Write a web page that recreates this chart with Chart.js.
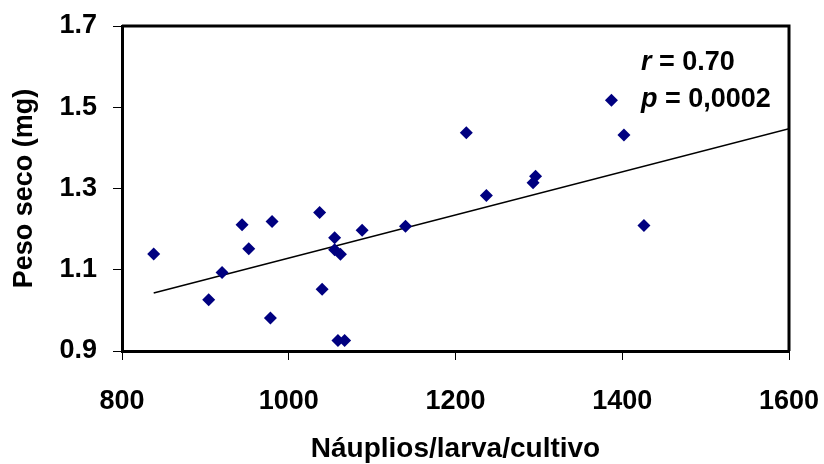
<!DOCTYPE html>
<html>
<head>
<meta charset="utf-8">
<script src="https://cdn.jsdelivr.net/npm/chart.js@4/dist/chart.umd.min.js"></script>
<style>
  html, body { margin: 0; padding: 0; background: #fff; }
  #wrap { width: 824px; height: 464px; position: relative; }
</style>
</head>
<body>
<div id="wrap"><canvas id="c" width="824" height="464"></canvas></div>
<script>
// Data
const nauplios = [838, 904, 920, 944, 952, 978, 980, 1037, 1040, 1055, 1055, 1062, 1059, 1067, 1088, 1140, 1213, 1237, 1293, 1296, 1387, 1402, 1426];
const pesoSeco = [1.139, 1.026, 1.093, 1.211, 1.152, 0.981, 1.219, 1.241, 1.052, 1.179, 1.149, 1.138, 0.926, 0.926, 1.197, 1.207, 1.437, 1.283, 1.314, 1.330, 1.517, 1.432, 1.209];
const trendX = [838, 1600];
const trendY = [1.043, 1.447];
const xTicks = [800, 1000, 1200, 1400, 1600];
const yTicks = [0.9, 1.1, 1.3, 1.5, 1.7];
const xTitle = 'Náuplios/larva/cultivo';
const yTitle = 'Peso seco (mg)';
const statLines = [['r', ' = 0.70'], ['p', ' = 0,0002']];

const FONT = '"Liberation Sans", Arial, sans-serif';

const points = nauplios.map((x, i) => ({ x: x, y: pesoSeco[i] }));
const trend = trendX.map((x, i) => ({ x: x, y: trendY[i] }));

const framePlugin = {
  id: 'frame',
  afterDraw(chart) {
    const { ctx, chartArea: a } = chart;
    ctx.save();
    ctx.strokeStyle = '#000';
    ctx.lineWidth = 3;
    ctx.beginPath();
    ctx.moveTo(a.left, a.top);
    ctx.lineTo(a.right, a.top);
    ctx.lineTo(a.right, a.bottom);
    ctx.stroke();
    // statistics text
    ctx.fillStyle = '#000';
    ctx.textBaseline = 'alphabetic';
    const x0 = 641;
    const baselines = [70, 107];
    statLines.forEach((ln, i) => {
      ctx.font = 'italic bold 27px ' + FONT;
      ctx.fillText(ln[0], x0, baselines[i]);
      const w = ctx.measureText(ln[0]).width;
      ctx.font = 'bold 27px ' + FONT;
      ctx.fillText(ln[1], x0 + w, baselines[i]);
    });
    ctx.restore();
  }
};

new Chart(document.getElementById('c'), {
  type: 'scatter',
  data: {
    datasets: [
      {
        data: points,
        pointStyle: 'rectRot',
        pointRadius: 6.5,
        pointHoverRadius: 6.5,
        backgroundColor: '#000080',
        borderColor: '#000080',
        borderWidth: 0,
        order: 1
      },
      {
        data: trend,
        showLine: true,
        pointRadius: 0,
        borderColor: '#000',
        borderWidth: 1.5,
        fill: false,
        order: 2
      }
    ]
  },
  options: {
    responsive: false,
    animation: false,
    events: [],
    layout: { padding: { top: 26, right: 35, left: 0, bottom: 0 } },
    plugins: { legend: { display: false }, tooltip: { enabled: false } },
    scales: {
      x: {
        type: 'linear',
        min: 800,
        max: 1600,
        afterBuildTicks: s => { s.ticks = xTicks.map(v => ({ value: v })); },
        afterFit: s => { s.height = 113; s.paddingLeft = 0; s.paddingRight = 0; },
        border: { display: true, color: '#000', width: 3 },
        grid: { drawOnChartArea: false, drawTicks: true, tickLength: 9, color: '#000', lineWidth: 1 },
        ticks: { color: '#000', font: { family: FONT, size: 27, weight: 'bold' }, padding: 25, maxRotation: 0, callback: v => String(v) },
        title: { display: true, text: xTitle, color: '#000', font: { family: FONT, size: 28, weight: 'bold' }, padding: { top: 0, bottom: -2 } }
      },
      y: {
        type: 'linear',
        min: 0.9,
        max: 1.7,
        afterBuildTicks: s => { s.ticks = yTicks.map(v => ({ value: v })); },
        afterFit: s => { s.width = 122; s.paddingTop = 0; s.paddingBottom = 0; },
        border: { display: true, color: '#000', width: 3 },
        grid: { drawOnChartArea: false, drawTicks: true, tickLength: 9, color: '#000', lineWidth: 1 },
        ticks: { color: '#000', font: { family: FONT, size: 27, weight: 'bold' }, padding: 16, callback: v => Number(v).toFixed(1) },
        title: { display: true, text: yTitle, color: '#000', font: { family: FONT, size: 27, weight: 'bold' }, padding: { top: 8, bottom: 0 } }
      }
    }
  },
  plugins: [framePlugin]
});
</script>
</body>
</html>
